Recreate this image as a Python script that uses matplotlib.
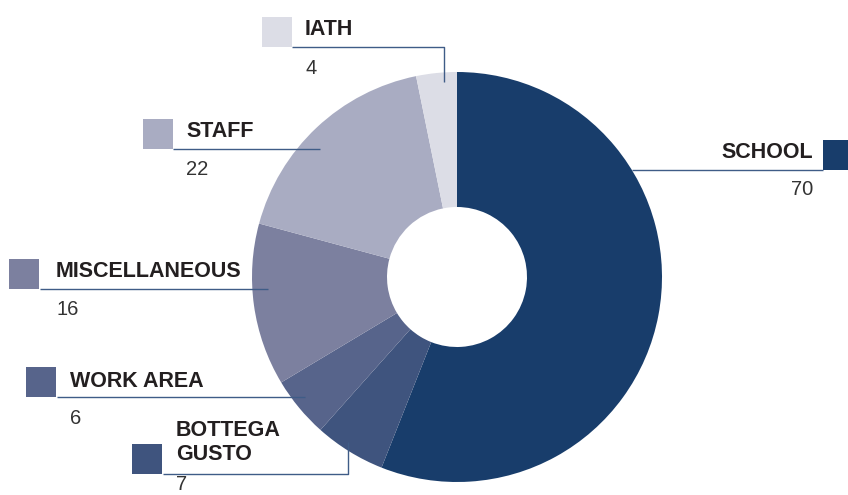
import matplotlib
matplotlib.use("Agg")
import matplotlib.pyplot as plt
from matplotlib.patches import Rectangle

plt.rcParams['font.family'] = ['Liberation Sans', 'DejaVu Sans']

categories = ["SCHOOL", "BOTTEGA\nGUSTO", "WORK AREA", "MISCELLANEOUS", "STAFF", "IATH"]
values = [70, 7, 6, 16, 22, 4]
colors = ["#183d6b", "#3f547e", "#57648b", "#7c809f", "#a9acc2", "#dcdde6"]

fig = plt.figure(figsize=(8.48, 4.95), dpi=100)
ax = fig.add_axes([0, 0, 1, 1])

ax.pie(values, colors=colors, startangle=-90, counterclock=True,
       center=(457, 277), radius=205,
       wedgeprops=dict(width=135, linewidth=0))

ax.set_xlim(0, 848)
ax.set_ylim(495, 0)
ax.set_aspect('equal')
ax.axis('off')

line_color = "#3f5c87"
layout = {
    "IATH": dict(sq=(262, 17), tx=305, ty=35, vy=74, ha='left',
                 line=[(292, 47), (444, 47), (444, 82)]),
    "SCHOOL": dict(sq=(823, 140), tx=813, ty=158, vy=195, ha='right',
                   line=[(823, 170), (632, 170)]),
    "MISCELLANEOUS": dict(sq=(9, 259), tx=56, ty=277, vy=315, ha='left',
                          line=[(40, 289), (268, 289)]),
    "STAFF": dict(sq=(143, 119), tx=186, ty=137, vy=175, ha='left',
                  line=[(173, 149), (320, 149)]),
    "WORK AREA": dict(sq=(26, 367), tx=70, ty=387, vy=424, ha='left',
                      line=[(57, 397), (305, 397)]),
    "BOTTEGA\nGUSTO": dict(sq=(132, 444), tx=176, ty=460, vy=490, ha='left',
                           line=[(163, 474), (348, 474), (348, 442)]),
}

for cat, val, col in zip(categories, values, colors):
    L = layout[cat]
    sx, sy = L['sq']
    ax.add_patch(Rectangle((sx, sy), 30, 30, facecolor=col, edgecolor='none', zorder=3))
    xs = [p[0] for p in L['line']]
    ys = [p[1] for p in L['line']]
    ax.plot(xs, ys, color=line_color, lw=1.0, zorder=4, solid_capstyle='butt')
    ax.text(L['tx'], L['ty'], cat, ha=L['ha'], va='baseline', fontsize=15.5,
            fontweight='bold', color="#231f20", linespacing=1.2, zorder=5)
    ax.text(L['tx'], L['vy'], str(val), ha=L['ha'], va='baseline', fontsize=14.5,
            color="#333333", zorder=5)

fig.savefig("out.png", dpi=100)
